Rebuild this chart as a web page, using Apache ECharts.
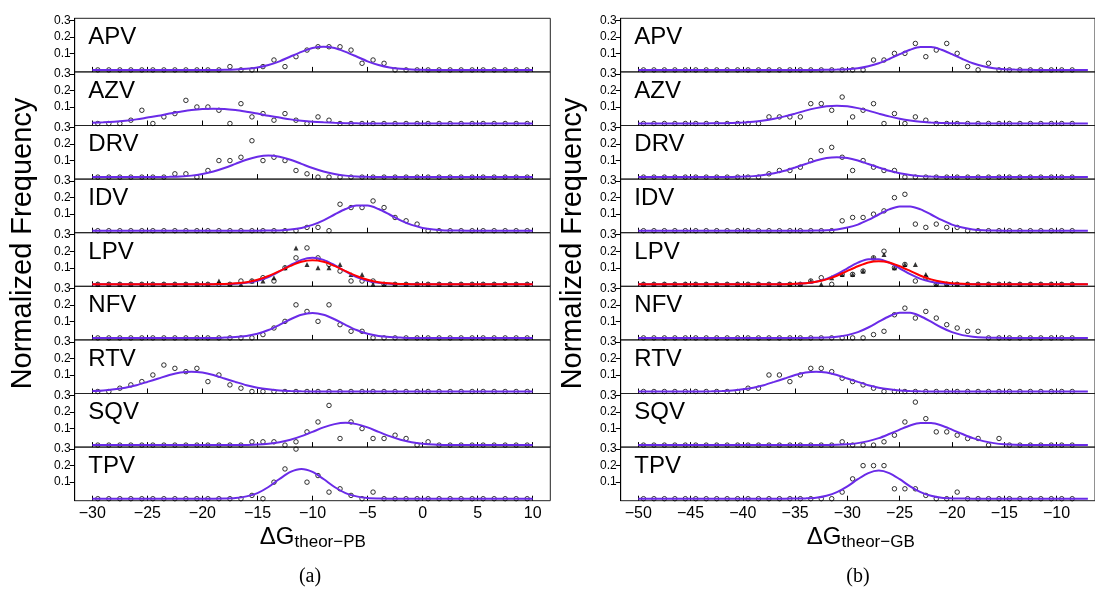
<!DOCTYPE html>
<html><head><meta charset="utf-8">
<script src="https://cdn.jsdelivr.net/npm/echarts@6/dist/echarts.min.js"></script>
<style>html,body{margin:0;padding:0;background:#fff}#c{width:1095px;height:595px}</style>
</head><body><div id="c"></div>
<script>
const names = ['APV','AZV','DRV','IDV','LPV','NFV','RTV','SQV','TPV'];
const xTicksPB = [-30,-25,-20,-15,-10,-5,0,5,10];
const xTicksGB = [-50,-45,-40,-35,-30,-25,-20,-15,-10];
const yTicks = [0.1,0.2,0.3];
const binsPB = [-29.5,-28.5,-27.5,-26.5,-25.5,-24.5,-23.5,-22.5,-21.5,-20.5,-19.5,-18.5,-17.5,-16.5,-15.5,-14.5,-13.5,-12.5,-11.5,-10.5,-9.5,-8.5,-7.5,-6.5,-5.5,-4.5,-3.5,-2.5,-1.5,-0.5,0.5,1.5,2.5,3.5,4.5,5.5,6.5,7.5,8.5,9.5];
const binsGB = [-49.5,-48.5,-47.5,-46.5,-45.5,-44.5,-43.5,-42.5,-41.5,-40.5,-39.5,-38.5,-37.5,-36.5,-35.5,-34.5,-33.5,-32.5,-31.5,-30.5,-29.5,-28.5,-27.5,-26.5,-25.5,-24.5,-23.5,-22.5,-21.5,-20.5,-19.5,-18.5,-17.5,-16.5,-15.5,-14.5,-13.5,-12.5,-11.5,-10.5,-9.5,-8.5];

// observed normalized frequencies (bins not listed are read as 0)
const pPB_APV = [[-17.5,.02],[-14.5,.02],[-13.5,.06],[-12.5,.02],[-11.5,.08],[-10.5,.12],[-9.5,.14],[-8.5,.14],[-7.5,.14],[-6.5,.12],[-5.5,.04],[-4.5,.06],[-3.5,.04]];
const pPB_AZV = [[-26.5,.02],[-25.5,.08],[-23.5,.04],[-22.5,.06],[-21.5,.14],[-20.5,.10],[-19.5,.10],[-18.5,.08],[-16.5,.12],[-15.5,.04],[-14.5,.06],[-13.5,.02],[-12.5,.06],[-11.5,.02],[-9.5,.04],[-8.5,.02]];
const pPB_DRV = [[-22.5,.02],[-21.5,.02],[-19.5,.04],[-18.5,.10],[-17.5,.10],[-16.5,.12],[-15.5,.22],[-14.5,.10],[-13.5,.12],[-12.5,.10],[-11.5,.04],[-10.5,.02]];
const pPB_IDV = [[-10.5,.02],[-9.5,.02],[-7.5,.16],[-6.5,.14],[-5.5,.14],[-4.5,.18],[-3.5,.14],[-2.5,.08],[-1.5,.06],[-0.5,.04]];
const pPB_LPV = [[-16.5,.02],[-15.5,.02],[-14.5,.04],[-13.5,.02],[-12.5,.10],[-11.5,.16],[-10.5,.22],[-9.5,.16],[-8.5,.12],[-7.5,.08],[-6.5,.02],[-5.5,.02],[-4.5,.02]];
const tPB_LPV = [[-18.5,.02],[-15.5,.02],[-14.5,.02],[-13.5,.04],[-12.5,.10],[-11.5,.22],[-10.5,.12],[-9.5,.10],[-8.5,.10],[-7.5,.12],[-6.5,.06],[-5.5,.06]];
const pPB_NFV = [[-14.5,.02],[-13.5,.06],[-12.5,.10],[-11.5,.20],[-10.5,.16],[-9.5,.10],[-8.5,.20],[-7.5,.08],[-6.5,.04],[-5.5,.04]];
const pPB_RTV = [[-27.5,.02],[-26.5,.04],[-25.5,.06],[-24.5,.10],[-23.5,.16],[-22.5,.14],[-21.5,.12],[-20.5,.14],[-19.5,.06],[-18.5,.10],[-17.5,.04],[-16.5,.02]];
const pPB_SQV = [[-15.5,.02],[-14.5,.02],[-13.5,.02],[-11.5,.02],[-10.5,.08],[-9.5,.14],[-8.5,.24],[-7.5,.04],[-6.5,.14],[-5.5,.10],[-4.5,.04],[-3.5,.04],[-2.5,.06],[-1.5,.04],[0.5,.02]];
const pPB_TPV = [[-15.5,.02],[-13.5,.10],[-12.5,.18],[-11.5,.30],[-10.5,.10],[-9.5,.14],[-8.5,.04],[-7.5,.06],[-6.5,.02],[-4.5,.04]];

const pGB_APV = [[-27.5,.06],[-26.5,.06],[-25.5,.10],[-24.5,.10],[-23.5,.16],[-22.5,.08],[-21.5,.12],[-20.5,.16],[-19.5,.10],[-18.5,.02],[-16.5,.04]];
const pGB_AZV = [[-37.5,.04],[-36.5,.04],[-35.5,.04],[-34.5,.04],[-33.5,.12],[-32.5,.12],[-31.5,.08],[-30.5,.16],[-29.5,.04],[-28.5,.08],[-27.5,.12],[-25.5,.06],[-23.5,.04],[-22.5,.02]];
const pGB_DRV = [[-37.5,.02],[-36.5,.04],[-35.5,.04],[-34.5,.06],[-33.5,.10],[-32.5,.16],[-31.5,.18],[-30.5,.12],[-29.5,.04],[-28.5,.10],[-27.5,.06],[-26.5,.04],[-25.5,.04]];
const pGB_IDV = [[-30.5,.06],[-29.5,.08],[-28.5,.08],[-27.5,.10],[-26.5,.12],[-25.5,.20],[-24.5,.22],[-23.5,.04],[-22.5,.02],[-21.5,.04],[-20.5,.02],[-19.5,.02]];
const pGB_LPV = [[-33.5,.02],[-32.5,.04],[-30.5,.06],[-29.5,.06],[-28.5,.08],[-27.5,.16],[-26.5,.20],[-25.5,.10],[-24.5,.12],[-23.5,.02],[-22.5,.04]];
const tGB_LPV = [[-33.5,.02],[-31.5,.04],[-30.5,.06],[-29.5,.06],[-28.5,.08],[-27.5,.16],[-26.5,.18],[-25.5,.10],[-24.5,.12],[-23.5,.12],[-22.5,.06]];
const pGB_NFV = [[-27.5,.02],[-26.5,.04],[-25.5,.14],[-24.5,.18],[-23.5,.12],[-22.5,.16],[-21.5,.12],[-20.5,.08],[-19.5,.06],[-18.5,.04],[-17.5,.04]];
const pGB_RTV = [[-39.5,.02],[-38.5,.02],[-37.5,.10],[-36.5,.10],[-35.5,.06],[-34.5,.10],[-33.5,.14],[-32.5,.14],[-31.5,.12],[-30.5,.08],[-29.5,.06],[-28.5,.04],[-27.5,.02]];
const pGB_SQV = [[-30.5,.02],[-26.5,.02],[-25.5,.06],[-24.5,.14],[-23.5,.26],[-22.5,.16],[-21.5,.08],[-20.5,.08],[-19.5,.06],[-18.5,.04],[-17.5,.04],[-15.5,.04]];
const pGB_TPV = [[-30.5,.04],[-29.5,.12],[-28.5,.20],[-27.5,.20],[-26.5,.20],[-25.5,.06],[-24.5,.06],[-23.5,.06],[-22.5,.02],[-19.5,.04]];

// fitted curves at integer x
const cPB_APV = [[-30,0],[-19,0],[-18,.001],[-17,.003],[-16,.007],[-15,.015],[-14,.030],[-13,.052],[-12,.081],[-11,.109],[-10,.132],[-9,.140],[-8,.132],[-7,.109],[-6,.081],[-5,.052],[-4,.030],[-3,.015],[-2,.007],[-1,.003],[0,.001],[1,0],[10,0]];
const cPB_AZV = [[-30,.004],[-29,.007],[-28,.011],[-27,.017],[-26,.025],[-25,.036],[-24,.047],[-23,.060],[-22,.071],[-21,.081],[-20,.088],[-19,.090],[-18,.088],[-17,.081],[-16,.071],[-15,.060],[-14,.047],[-13,.036],[-12,.025],[-11,.017],[-10,.011],[-9,.007],[-8,.004],[-7,.002],[-6,.001],[-5,0],[10,0]];
const cPB_DRV = [[-30,0],[-25,0],[-24,.001],[-23,.002],[-22,.004],[-21,.009],[-20,.019],[-19,.034],[-18,.055],[-17,.080],[-16,.105],[-15,.123],[-14,.130],[-13,.123],[-12,.105],[-11,.080],[-10,.055],[-9,.034],[-8,.019],[-7,.009],[-6,.004],[-5,.002],[-4,.001],[-3,0],[10,0]];
const cPB_IDV = [[-30,0],[-15,0],[-14,.001],[-13,.002],[-12,.007],[-11,.017],[-10,.035],[-9,.063],[-8,.098],[-7,.131],[-6,.152],[-5,.152],[-4,.131],[-3,.098],[-2,.063],[-1,.035],[0,.017],[1,.007],[2,.002],[3,.001],[4,0],[10,0]];
const cPB_LPV = [[-30,0],[-19,0],[-18,.001],[-17,.003],[-16,.009],[-15,.022],[-14,.044],[-13,.078],[-12,.116],[-11,.148],[-10,.160],[-9,.148],[-8,.116],[-7,.078],[-6,.044],[-5,.022],[-4,.009],[-3,.003],[-2,.001],[-1,0],[10,0]];
const rPB_LPV = [[-30,0],[-20,0],[-19,.001],[-18,.002],[-17,.006],[-16,.013],[-15,.028],[-14,.050],[-13,.080],[-12,.111],[-11,.136],[-10,.145],[-9,.136],[-8,.111],[-7,.080],[-6,.050],[-5,.028],[-4,.013],[-3,.006],[-2,.002],[-1,.001],[0,0],[10,0]];
const cPB_NFV = [[-30,0],[-19,0],[-18,.002],[-17,.005],[-16,.012],[-15,.025],[-14,.048],[-13,.079],[-12,.113],[-11,.140],[-10,.150],[-9,.140],[-8,.113],[-7,.079],[-6,.048],[-5,.025],[-4,.012],[-3,.005],[-2,.002],[-1,0],[10,0]];
const cPB_RTV = [[-30,.003],[-29,.006],[-28,.013],[-27,.023],[-26,.038],[-25,.058],[-24,.079],[-23,.100],[-22,.115],[-21,.120],[-20,.115],[-19,.100],[-18,.079],[-17,.058],[-16,.038],[-15,.023],[-14,.013],[-13,.006],[-12,.003],[-11,.001],[-10,0],[10,0]];
const cPB_SQV = [[-30,0],[-17,0],[-16,.001],[-15,.003],[-14,.008],[-13,.017],[-12,.032],[-11,.054],[-10,.080],[-9,.107],[-8,.127],[-7,.135],[-6,.127],[-5,.107],[-4,.080],[-3,.054],[-2,.032],[-1,.017],[0,.008],[1,.003],[2,.001],[3,0],[10,0]];
const cPB_TPV = [[-30,0],[-19,0],[-18,.001],[-17,.004],[-16,.014],[-15,.034],[-14,.071],[-13,.119],[-12,.162],[-11,.180],[-10,.162],[-9,.119],[-8,.071],[-7,.034],[-6,.014],[-5,.004],[-4,.001],[-3,0],[10,0]];

const cGB_APV = [[-50,0],[-33,0],[-32,.001],[-31,.002],[-30,.004],[-29,.010],[-28,.022],[-27,.040],[-26,.066],[-25,.095],[-24,.122],[-23,.138],[-22,.138],[-21,.122],[-20,.095],[-19,.066],[-18,.040],[-17,.022],[-16,.010],[-15,.004],[-14,.002],[-13,.001],[-12,0],[-7,0]];
const cGB_AZV = [[-50,0],[-44,0],[-43,.001],[-42,.001],[-41,.003],[-40,.006],[-39,.010],[-38,.018],[-37,.029],[-36,.043],[-35,.060],[-34,.078],[-33,.093],[-32,.104],[-31,.108],[-30,.104],[-29,.093],[-28,.078],[-27,.060],[-26,.043],[-25,.029],[-24,.018],[-23,.010],[-22,.006],[-21,.003],[-20,.001],[-19,.001],[-18,0],[-7,0]];
const cGB_DRV = [[-50,0],[-42,0],[-41,.001],[-40,.003],[-39,.006],[-38,.013],[-37,.023],[-36,.038],[-35,.058],[-34,.079],[-33,.100],[-32,.115],[-31,.120],[-30,.115],[-29,.100],[-28,.079],[-27,.058],[-26,.038],[-25,.023],[-24,.013],[-23,.006],[-22,.003],[-21,.001],[-20,0],[-7,0]];
const cGB_IDV = [[-50,0],[-34,0],[-33,.001],[-32,.003],[-31,.008],[-30,.019],[-29,.037],[-28,.065],[-27,.098],[-26,.129],[-25,.147],[-24,.147],[-23,.129],[-22,.098],[-21,.065],[-20,.037],[-19,.019],[-18,.008],[-17,.003],[-16,.001],[-15,0],[-7,0]];
const cGB_LPV = [[-50,0],[-37,0],[-36,.001],[-35,.002],[-34,.006],[-33,.016],[-32,.033],[-31,.061],[-30,.097],[-29,.131],[-28,.152],[-27,.152],[-26,.131],[-25,.097],[-24,.061],[-23,.033],[-22,.016],[-21,.006],[-20,.002],[-19,.001],[-18,0],[-7,0]];
const rGB_LPV = [[-50,0],[-37,0],[-36,.001],[-35,.003],[-34,.007],[-33,.015],[-32,.030],[-31,.052],[-30,.081],[-29,.109],[-28,.132],[-27,.140],[-26,.132],[-25,.109],[-24,.081],[-23,.052],[-22,.030],[-21,.015],[-20,.007],[-19,.003],[-18,.001],[-17,0],[-7,0]];
const cGB_NFV = [[-50,0],[-34,0],[-33,.001],[-32,.002],[-31,.007],[-30,.017],[-29,.035],[-28,.063],[-27,.098],[-26,.131],[-25,.152],[-24,.152],[-23,.131],[-22,.098],[-21,.063],[-20,.035],[-19,.017],[-18,.007],[-17,.002],[-16,.001],[-15,0],[-7,0]];
const cGB_RTV = [[-50,0],[-44,0],[-43,.001],[-42,.003],[-41,.006],[-40,.013],[-39,.023],[-38,.038],[-37,.058],[-36,.079],[-35,.100],[-34,.115],[-33,.120],[-32,.115],[-31,.100],[-30,.079],[-29,.058],[-28,.038],[-27,.023],[-26,.013],[-25,.006],[-24,.003],[-23,.001],[-22,0],[-7,0]];
const cGB_SQV = [[-50,0],[-33,0],[-32,.001],[-31,.002],[-30,.005],[-29,.012],[-28,.024],[-27,.042],[-26,.067],[-25,.094],[-24,.119],[-23,.133],[-22,.133],[-21,.119],[-20,.094],[-19,.067],[-18,.042],[-17,.024],[-16,.012],[-15,.005],[-14,.002],[-13,.001],[-12,0],[-7,0]];
const cGB_TPV = [[-50,0],[-36,0],[-35,.001],[-34,.002],[-33,.006],[-32,.018],[-31,.040],[-30,.075],[-29,.118],[-28,.155],[-27,.170],[-26,.155],[-25,.118],[-24,.075],[-23,.040],[-22,.018],[-21,.006],[-20,.002],[-19,.001],[-18,0],[-7,0]];

const FONT = 'Liberation Sans, Arial, Helvetica, sans-serif';
const PURPLE = '#6a2be8';
const sides = [
  {left:74.7, width:475.6, min:-31.6, max:11.6, bins:binsPB, ticks:xTicksPB,
   pts:[pPB_APV,pPB_AZV,pPB_DRV,pPB_IDV,pPB_LPV,pPB_NFV,pPB_RTV,pPB_SQV,pPB_TPV],
   curves:[cPB_APV,cPB_AZV,cPB_DRV,cPB_IDV,cPB_LPV,cPB_NFV,cPB_RTV,cPB_SQV,cPB_TPV],
   tri:tPB_LPV, red:rPB_LPV, title:'theor\u2212PB', tag:'(a)', tagX:310, ytX:23},
  {left:620.7, width:501.2, min:-51.68, max:-6.32, bins:binsGB, ticks:xTicksGB,
   pts:[pGB_APV,pGB_AZV,pGB_DRV,pGB_IDV,pGB_LPV,pGB_NFV,pGB_RTV,pGB_SQV,pGB_TPV],
   curves:[cGB_APV,cGB_AZV,cGB_DRV,cGB_IDV,cGB_LPV,cGB_NFV,cGB_RTV,cGB_SQV,cGB_TPV],
   tri:tGB_LPV, red:rGB_LPV, title:'theor\u2212GB', tag:'(b)', tagX:858, ytX:573}
];
const TOP0 = 18.3, PH = 53.6;

function fullSeries(bins, sparse){
  const m = new Map(sparse.map(p => [p[0], p[1]]));
  return bins.map(x => [x, m.has(x) ? m.get(x) : 0]);
}
const grid=[], xAxis=[], yAxis=[], series=[], graphic=[];
sides.forEach((s, si) => {
  for (let i = 0; i < 9; i++) {
    const idx = si*9 + i;
    const top = TOP0 + PH*i;
    grid.push({left:s.left, top:top, width:s.width, height:PH, show:true, borderColor:'#222', borderWidth:1, containLabel:false});
    xAxis.push({gridIndex:idx, type:'value', min:s.min, max:s.max, position:'bottom',
      axisLine:{show:false, onZero:false},
      axisTick:{show:true, inside:true, length:5, customValues:s.ticks, lineStyle:{color:'#000', width:1}},
      axisLabel:{show:i===8, customValues:s.ticks, fontSize:16, fontFamily:FONT, color:'#000', margin:5,
        formatter:v => String(v).replace('-', '\u2212')},
      splitLine:{show:false}});
    yAxis.push({gridIndex:idx, type:'value', min:-0.012, max:0.312, position:'left',
      axisLine:{show:true, onZero:false, lineStyle:{color:'#000', width:1}},
      axisTick:{show:true, inside:false, length:5, customValues:yTicks, lineStyle:{color:'#000'}},
      axisLabel:{show:true, customValues:yTicks, fontSize:12, fontFamily:FONT, color:'#000', margin:4,
        formatter:v => v.toFixed(1)},
      splitLine:{show:false}});
    series.push({type:'scatter', xAxisIndex:idx, yAxisIndex:idx, data:fullSeries(s.bins, s.pts[i]),
      symbol:'circle', symbolSize:4.5, silent:true, z:2,
      itemStyle:{color:'rgba(0,0,0,0)', borderColor:'#000', borderWidth:1}});
    if (i === 4) {
      series.push({type:'scatter', xAxisIndex:idx, yAxisIndex:idx, data:fullSeries(s.bins, s.tri),
        symbol:'triangle', symbolSize:5, silent:true, z:2, itemStyle:{color:'#000'}});
    }
    series.push({type:'line', xAxisIndex:idx, yAxisIndex:idx, data:s.curves[i], smooth:0.3,
      showSymbol:false, silent:true, z:3, lineStyle:{color:PURPLE, width:2}});
    if (i === 4) {
      series.push({type:'line', xAxisIndex:idx, yAxisIndex:idx, data:s.red, smooth:0.3,
        showSymbol:false, silent:true, z:4, lineStyle:{color:'#ff0000', width:2}});
    }
    graphic.push({type:'text', x:s.left + 13.6, y:top + 19.3, z:10,
      style:{text:names[i], fontSize:24, fontFamily:FONT, fill:'#000', align:'left', verticalAlign:'middle'}});
  }
  const cx = s.left + (si === 0 ? s.width/2 : 238.8);
  graphic.push({type:'text', x:cx - 18, y:537.6, z:10,
    style:{text:'\u0394G', fontSize:24, fontFamily:FONT, fill:'#000', align:'right', verticalAlign:'middle'}});
  graphic.push({type:'text', x:cx - 18, y:542.5, z:10,
    style:{text:s.title, fontSize:17, fontFamily:FONT, fill:'#000', align:'left', verticalAlign:'middle'}});
  graphic.push({type:'text', x:s.tagX, y:577, z:10,
    style:{text:s.tag, fontSize:20, fontFamily:'Liberation Serif, Times New Roman, serif', fill:'#000', align:'center', verticalAlign:'middle'}});
  graphic.push({type:'text', x:s.ytX, y:243.5, rotation:Math.PI/2, z:10,
    style:{text:'Normalized Frequency', fontSize:29, fontFamily:FONT, fill:'#000', align:'center', verticalAlign:'middle'}});
});

const chart = echarts.init(document.getElementById('c'));
chart.setOption({animation:false, backgroundColor:'#fff', grid, xAxis, yAxis, series, graphic});
</script></body></html>
